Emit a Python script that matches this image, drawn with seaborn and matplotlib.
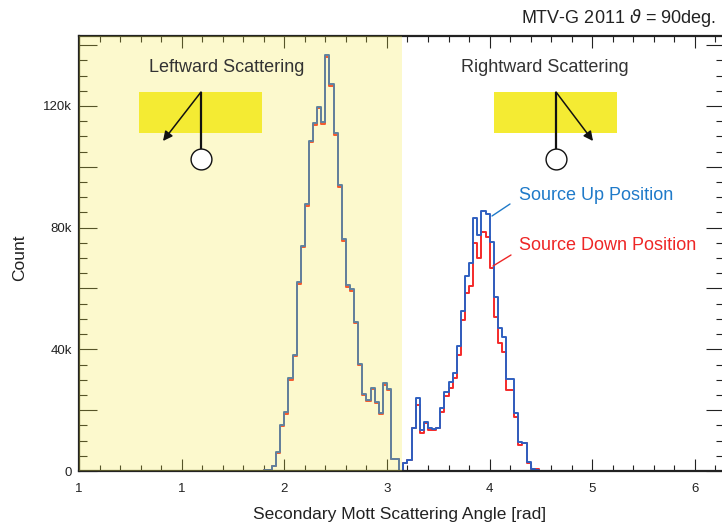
import numpy as np
import pandas as pd
import matplotlib
matplotlib.use("Agg")
import matplotlib.pyplot as plt
from matplotlib.patches import Rectangle
import seaborn as sns

# ---------------- data (counts in thousands per 0.04 rad bin) ----------------
bin_width = 0.04
first_bin = 1.80
up_counts_k = [
    0.2, 0.4, 1.6, 6.4, 15.1, 19.5, 30.5, 38.1, 62.2, 74.1,
    87.7, 108.6, 114.3, 119.8, 114.8, 136.8, 127.1, 111.2, 94.0, 76.2,
    61.1, 59.7, 49.1, 35.1, 25.2, 23.3, 27.2, 22.8, 19.0, 28.8,
    26.8, 3.9, 3.9, 0.0,
    2.5, 3.6, 14.0, 23.9, 13.5, 16.2, 14.0, 13.7, 14.2, 20.8,
    26.1, 29.4, 32.3, 41.1, 52.7, 64.1, 68.3, 83.3, 77.6, 85.6,
    84.4, 75.4, 57.1, 46.9, 44.2, 30.1, 30.1, 19.0, 9.6, 9.3,
    3.1, 0.5, 0.2, 0.1,
]
down_counts_k = [
    0.2, 0.3, 1.5, 6.0, 14.8, 18.9, 30.0, 37.7, 61.6, 73.6,
    87.0, 108.0, 113.6, 119.2, 114.2, 136.0, 126.4, 110.6, 93.4, 75.7,
    60.6, 59.1, 48.6, 34.7, 24.9, 23.0, 26.8, 22.5, 18.8, 28.4,
    26.5, 3.8, 3.8, 0.0,
    2.5, 3.6, 14.0, 21.7, 12.4, 15.7, 13.5, 13.5, 14.0, 19.3,
    24.7, 27.2, 30.5, 38.1, 49.6, 58.4, 60.8, 74.8, 69.9, 78.7,
    77.0, 66.6, 50.7, 42.0, 39.2, 26.6, 26.6, 17.6, 8.5, 9.1,
    2.7, 0.8, 0.5, 0.0,
]
x_tick_values = [0, 1, 2, 3, 4, 5, 6]
x_tick_labels = ["1", "1", "2", "3", "4", "5", "6"]
y_label_values = [0, 40000, 80000, 120000]
y_label_texts = ["0", "40k", "80k", "120k"]

n_bins = len(up_counts_k)
centers = first_bin + bin_width * (np.arange(n_bins) + 0.5)
bin_range = (first_bin, first_bin + bin_width * n_bins)
df_up = pd.DataFrame({"angle": centers, "count": np.array(up_counts_k) * 1000})
df_down = pd.DataFrame({"angle": centers, "count": np.array(down_counts_k) * 1000})

# ---------------- style ----------------
sns.set_style("ticks")
plt.rcParams["font.family"] = ["Liberation Sans", "DejaVu Sans"]
plt.rcParams["mathtext.fontset"] = "dejavusans"

W, H = 722, 528
fig = plt.figure(figsize=(W / 100, H / 100), dpi=100)
L, R, T, B = 79, 724, 36, 471
ax = fig.add_axes([L / W, (H - B) / H, (R - L) / W, (B - T) / H])

RED = "#f42a2a"
BLUE = "#2f5fc0"

sns.histplot(data=df_down, x="angle", weights="count", binwidth=bin_width,
             binrange=bin_range, element="step", fill=False, color=RED,
             linewidth=1.4, ax=ax)
sns.histplot(data=df_up, x="angle", weights="count", binwidth=bin_width,
             binrange=bin_range, element="step", fill=False, color=BLUE,
             linewidth=1.4, ax=ax)

ax.set_xlim(0, 2 * np.pi)
ax.set_ylim(0, 143000)

# shaded leftward region (drawn on top, semi transparent)
ax.axvspan(0, np.pi, color="#f5eb3a", alpha=0.25, lw=0, zorder=3)

# ticks
ax.set_xticks(x_tick_values)
ax.set_xticklabels(x_tick_labels)
ax.set_xticks(np.arange(0, 6.3, 0.2), minor=True)
yt = np.arange(0, 143000, 20000)
ax.set_yticks(yt)
ax.set_yticklabels([y_label_texts[y_label_values.index(v)] if v in y_label_values else "" for v in yt])
ax.set_yticks(np.arange(0, 143000, 5000), minor=True)
ax.tick_params(axis="both", which="both", direction="in", top=True, right=True,
               colors="#222222", labelsize=9.5, width=0.8)
ax.tick_params(axis="x", which="major", length=8.6, pad=9)
ax.tick_params(axis="x", which="minor", length=4.3)
ax.tick_params(axis="y", which="major", length=13, pad=5)
ax.tick_params(axis="y", which="minor", length=5.8)
for s in ax.spines.values():
    s.set_linewidth(1.6)
    s.set_color("#222222")

ax.set_xlabel("Secondary Mott Scattering Angle [rad]", fontsize=12.5, color="#222222")
ax.xaxis.label.set_va("center")
ax.xaxis.set_label_coords((400 - L) / (R - L), (B - 514) / (B - T))
ax.set_ylabel("Count", fontsize=12.5, color="#222222")
ax.yaxis.label.set_va("center")
ax.yaxis.set_label_coords((20 - L) / (R - L), (B - 258) / (B - T))

fig.text(716 / W, 1 - 18 / H, "MTV-G 2011 $\\mathit{\\vartheta}$ = 90deg.", ha="right",
         va="center", fontsize=13, color="#222222")

# ---------------- annotations ----------------
def px(x):
    return (x - L) / (R - L) * 2 * np.pi

def py(y):
    return (B - y) / (B - T) * 143000

BOX = "#f4eb33"
for bx0, bx1 in [(139, 262), (494, 617)]:
    ax.add_patch(Rectangle((px(bx0), py(133)), px(bx1) - px(bx0), py(92) - py(133),
                           facecolor=BOX, edgecolor="none", zorder=4))

for pivot, tip in [(201, (163, 141)), (556, (593, 141))]:
    ax.plot([px(pivot), px(pivot)], [py(92), py(149)], color="#111111", lw=1.6, zorder=5,
            solid_capstyle="butt")
    ax.plot(px(pivot), py(159), "o", ms=15, mfc="white", mec="#111111", mew=1.0, zorder=6)
    ax.annotate("", xy=(px(tip[0]), py(tip[1])), xytext=(px(pivot), py(92)),
                arrowprops=dict(arrowstyle="-|>", color="#111111", lw=1.1,
                                mutation_scale=14, shrinkA=0, shrinkB=0), zorder=6)

ax.text(px(227), py(68), "Leftward Scattering", ha="center", va="center",
        fontsize=13, color="#333333", zorder=6)
ax.text(px(545), py(68), "Rightward Scattering", ha="center", va="center",
        fontsize=13, color="#333333", zorder=6)

ax.text(px(519), py(195), "Source Up Position", ha="left", va="center",
        fontsize=13, color="#1f7ac9", zorder=6)
ax.text(px(519), py(245), "Source Down Position", ha="left", va="center",
        fontsize=13, color="#ee2626", zorder=6)
ax.plot([px(510), px(492)], [py(204), py(216)], color="#1f7ac9", lw=1.0, zorder=6)
ax.plot([px(511), px(493)], [py(255), py(266)], color="#ee2626", lw=1.0, zorder=6)

fig.savefig("out.png", dpi=100)
